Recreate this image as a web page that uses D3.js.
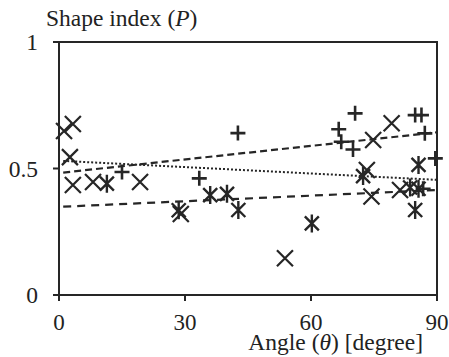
<!DOCTYPE html>
<html>
<head>
  <meta charset="utf-8">
  <style>
    body { margin: 0; background: #fff; }
  </style>
  <script src="https://d3js.org/d3.v7.min.js"></script>
</head>
<body>
  <svg id="svg" width="449" height="357"></svg>
  <script>
    // x marker series
    let crossX = [1.2, 3.3, 2.6, 3.3, 8.1, 19.3, 29, 53.8, 73.3, 74.4, 74.8, 79.2, 81.2];
    let crossY = [0.648, 0.676, 0.545, 0.435, 0.447, 0.447, 0.32, 0.145, 0.494, 0.389, 0.613, 0.679, 0.415];
    // + marker series
    let plusX = [15, 33.4, 42.6, 66.6, 67.2, 70, 70.5, 84.8, 86.3, 87.1, 86.7, 89.6];
    let plusY = [0.486, 0.461, 0.64, 0.655, 0.606, 0.575, 0.718, 0.711, 0.711, 0.639, 0.42, 0.54];
    // star marker series
    let starX = [11.4, 28.5, 36, 40, 42.7, 60.2, 72.4, 83.6, 85.6, 84.8, 85.6];
    let starY = [0.44, 0.335, 0.395, 0.40, 0.336, 0.283, 0.47, 0.425, 0.42, 0.336, 0.514];
    // trend lines (start, end)
    let trendPlus = [[1, 0.484], [90, 0.643]];
    let trendCross = [[1, 0.53], [90, 0.455]];
    let trendStar = [[1, 0.349], [90, 0.415]];

    let xTicks = [0, 30, 60, 90];
    let yTicks = [0, 0.5, 1];
    let yTickLabels = ["0", "0.5", "1"];

    let svg = d3.select("#svg");
    let plotL = 59, plotR = 437, plotT = 42, plotB = 295;
    let x = d3.scaleLinear().domain([0, 90]).range([plotL, plotR]);
    let y = d3.scaleLinear().domain([0, 1]).range([plotB, plotT]);
    let ink = "#262626";
    let serif = "'Liberation Serif', 'Times New Roman', 'DejaVu Serif', serif";

    // frame
    svg.append("rect")
      .attr("x", plotL).attr("y", plotT)
      .attr("width", plotR - plotL).attr("height", plotB - plotT)
      .attr("fill", "none").attr("stroke", ink).attr("stroke-width", 2);

    // y ticks
    svg.selectAll(".ytick").data(yTicks).enter().append("line")
      .attr("x1", plotL - 6).attr("x2", plotL)
      .attr("y1", d => y(d)).attr("y2", d => y(d))
      .attr("stroke", ink).attr("stroke-width", 2);
    svg.selectAll(".ylab").data(yTicks).enter().append("text")
      .attr("x", 38).attr("y", d => y(d) + 8)
      .attr("text-anchor", "end")
      .attr("font-family", serif).attr("font-size", 23.5).attr("fill", "#222")
      .text((d, i) => yTickLabels[i]);

    // x ticks
    svg.selectAll(".xtick").data(xTicks).enter().append("line")
      .attr("x1", d => x(d)).attr("x2", d => x(d))
      .attr("y1", plotB).attr("y2", plotB + 6)
      .attr("stroke", ink).attr("stroke-width", 2);
    svg.selectAll(".xlab").data(xTicks).enter().append("text")
      .attr("x", d => x(d)).attr("y", 330)
      .attr("text-anchor", "middle")
      .attr("font-family", serif).attr("font-size", 23).attr("fill", "#222")
      .text(d => d);

    // axis titles
    let yt = svg.append("text").attr("x", 46).attr("y", 26)
      .attr("font-family", serif).attr("font-size", 23.5).attr("fill", "#222");
    yt.append("tspan").text("Shape index (");
    yt.append("tspan").attr("font-style", "italic").text("P");
    yt.append("tspan").text(")");

    let xt = svg.append("text").attr("x", 423).attr("y", 350)
      .attr("text-anchor", "end")
      .attr("font-family", serif).attr("font-size", 23.5).attr("fill", "#222");
    xt.append("tspan").text("Angle (");
    xt.append("tspan").attr("font-style", "italic").text("\u03B8");
    xt.append("tspan").text(") [degree]");

    // trend lines
    let line = d3.line().x(d => x(d[0])).y(d => y(d[1]));
    svg.append("path").attr("d", line(trendPlus))
      .attr("fill", "none").attr("stroke", ink).attr("stroke-width", 2.2)
      .attr("stroke-dasharray", "7,4");
    svg.append("path").attr("d", line(trendCross))
      .attr("fill", "none").attr("stroke", ink).attr("stroke-width", 2)
      .attr("stroke-dasharray", "2,2");
    svg.append("path").attr("d", line(trendStar))
      .attr("fill", "none").attr("stroke", ink).attr("stroke-width", 2.2)
      .attr("stroke-dasharray", "8,6");

    // markers
    let crossPath = "M-8,-8L8,8M-8,8L8,-8";
    let plusPath = "M-7.5,0L7.5,0M0,-7.5L0,7.5";
    let starPath = "M-7,-7L7,7M-7,7L7,-7M0,-9L0,9";

    function drawMarkers(xs, ys, path, width) {
      svg.append("g").selectAll("path")
        .data(xs.map((d, i) => [d, ys[i]]))
        .enter().append("path")
        .attr("transform", d => "translate(" + x(d[0]) + "," + y(d[1]) + ")")
        .attr("d", path)
        .attr("fill", "none").attr("stroke", ink).attr("stroke-width", width);
    }
    drawMarkers(crossX, crossY, crossPath, 2.2);
    drawMarkers(plusX, plusY, plusPath, 2.6);
    drawMarkers(starX, starY, starPath, 2.4);
  </script>
</body>
</html>
